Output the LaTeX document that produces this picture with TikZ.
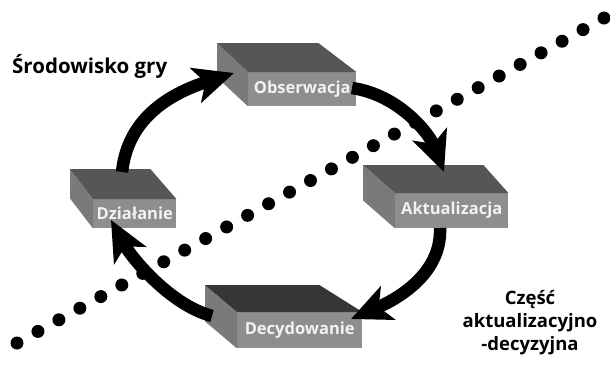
\documentclass[tikz,border=0pt]{standalone}
\usepackage{fontspec}
\setmainfont{Open Sans}
\usetikzlibrary{arrows.meta,calc}
\definecolor{frontc}{HTML}{8E8E8E}
\definecolor{sidec}{HTML}{7A7A7A}
\definecolor{topc}{HTML}{565656}
\definecolor{topdark}{HTML}{363636}
\definecolor{labc}{HTML}{F2F2F2}
\tikzset{
  front/.style={fill=frontc, inner sep=0pt, anchor=north west, text=labc,
    font=\bfseries\fontsize{16.5}{18}\selectfont},
  sideface/.style={fill=sidec},
  cyclearrow/.style={line width=12.5pt, -{Stealth[length=40pt,width=36pt,inset=10pt]}},
  heading/.style={font=\bfseries\fontsize{20.5}{24}\selectfont, text=black, inner sep=0pt},
  sideheading/.style={font=\bfseries\fontsize{18.5}{23}\selectfont, text=black, inner sep=0pt},
  dot/.style={fill=black}
}
\newcommand{\cubefaces}[5]{% node, dxL, dxR, dy, topcolour
  \fill[sideface] (#1.north west) -- ++(#2,#4) -- ($(#1.south west)+(#2,#4)$) -- (#1.south west) -- cycle;
  \fill[#5] (#1.north west) -- ++(#2,#4) -- ($(#1.north east)+(#3,#4)$) -- (#1.north east) -- cycle;
}
\begin{document}
\begin{tikzpicture}[x=1pt,y=-1pt]
\useasboundingbox (0,0) rectangle (610,370);
% dotted diagonal
\foreach \i in {0,...,28}{
  \pgfmathsetmacro{\dx}{17+\i*20.964}
  \pgfmathsetmacro{\dy}{343-\i*11.607}
  \fill[dot] (\dx,\dy) circle (6.5pt);
}
% boxes
\node[front, minimum width=108pt, minimum height=34pt] (obs) at (248,72) {Obserwacja};
\cubefaces{obs}{-31}{-38}{-29}{topc}
\node[front, minimum width=113pt, minimum height=35pt] (akt) at (395,193) {Aktualizacja};
\cubefaces{akt}{-32}{-25}{-28}{topc}
\node[front, minimum width=83pt, minimum height=29pt] (dzi) at (93,199) {Działanie};
\cubefaces{dzi}{-23}{-26}{-30}{topc}
\node[front, minimum width=125pt, minimum height=36pt] (dec) at (237,312) {Decydowanie};
\cubefaces{dec}{-32}{-43}{-27}{topdark}
% arrow end points
\coordinate (a1s) at (122,172);
\coordinate (a1e) at (234,73);
\coordinate (a2s) at (352,88);
\coordinate (a2e) at (444,172);
\coordinate (a3s) at (440,228);
\coordinate (a3e) at (351,319);
\coordinate (a4s) at (212,316);
\coordinate (a4e) at (111,220);
\draw[cyclearrow] (a1s) .. controls (128,115) and (175,92) .. (a1e);
\draw[cyclearrow] (a2s) .. controls (400,95) and (430,135) .. (a2e);
\draw[cyclearrow] (a3s) .. controls (442,275) and (395,300) .. (a3e);
\draw[cyclearrow] (a4s) .. controls (170,305) and (131,257) .. (a4e);
% texts
\node[heading, anchor=base west] (env) at (12,73) {Środowisko gry};
\node[sideheading, anchor=north, align=center] (part) at (530,290) {Część\\aktualizacyjno\\-decyzyjna};
\end{tikzpicture}
\end{document}
